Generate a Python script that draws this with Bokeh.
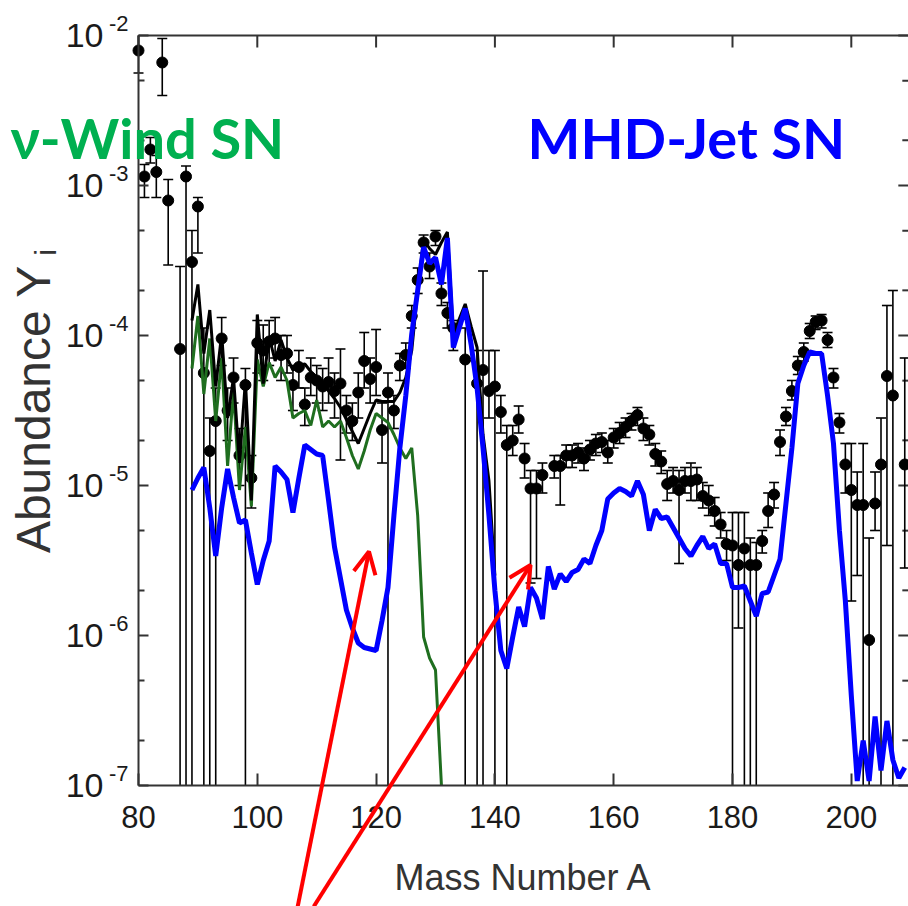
import numpy as np
from bokeh.plotting import figure
from bokeh.models import (Label, Arrow, OpenHead, FixedTicker, Range1d, CustomJSTickFormatter)
from bokeh.embed import file_html
from bokeh.resources import INLINE

# ---------------- data (log10 of abundance) ----------------
x_ticks = [80, 100, 120, 140, 160, 180, 200]
y_exps = [-2, -3, -4, -5, -6, -7]

mhd_A = list(range(89, 210))
mhd_logY = [-5.03, -4.95, -4.88, -5.15, -5.47, -5.15, -4.89, -5.08, -5.25, -5.23,
            -5.45, -5.66, -5.50, -5.37, -4.87, -4.91, -4.96, -5.18, -4.95, -4.73,
            -4.76, -4.79, -4.80, -5.10, -5.41, -5.62, -5.83, -5.95, -6.05, -6.08,
            -6.09, -6.10, -5.90, -5.68, -5.20, -4.75, -4.40, -3.99, -3.70, -3.41,
            -3.52, -3.48, -3.66, -3.35, -4.08, -3.95, -3.82, -4.06, -4.35, -4.75,
            -5.20, -5.70, -6.10, -6.22, -6.01, -5.81, -5.94, -5.68, -5.75, -5.89,
            -5.54, -5.69, -5.59, -5.64, -5.58, -5.56, -5.49, -5.52, -5.40, -5.30,
            -5.09, -5.05, -5.02, -5.04, -5.07, -4.97, -5.06, -5.30, -5.16, -5.22,
            -5.21, -5.28, -5.35, -5.42, -5.47, -5.40, -5.34, -5.42, -5.39, -5.52,
            -5.52, -5.68, -5.68, -5.67, -5.77, -5.87, -5.72, -5.71, -5.60, -5.49,
            -5.12, -4.75, -4.32, -4.20, -4.11, -4.12, -4.12, -4.40, -4.72, -5.30,
            -5.77, -6.40, -6.97, -6.70, -6.97, -6.54, -6.90, -6.57, -6.83, -6.95,
            -6.88]

wind_A = list(range(89, 132))
wind_logY = [-4.22, -3.87, -4.39, -4.02, -4.57, -4.15, -4.87, -4.37, -5.03, -4.61,
             -5.14, -4.16, -4.34, -4.18, -4.28, -4.21, -4.30, -4.55, -4.52, -4.50,
             -4.60, -4.43, -4.61, -4.57, -4.61, -4.57, -4.68, -4.80, -4.89, -4.77,
             -4.63, -4.52, -4.55, -4.58, -4.66, -4.75, -4.82, -4.75, -5.20, -6.01,
             -6.15, -6.23, -7.00]

total_A = list(range(89, 141))
total_logY = [-3.90, -3.66, -4.12, -3.83, -4.34, -3.99, -4.55, -4.28, -4.85, -4.30,
              -5.10, -3.86, -4.32, -4.01, -4.17, -4.03, -4.15, -4.23, -4.20, -4.19,
              -4.24, -4.28, -4.32, -4.37, -4.42, -4.48, -4.56, -4.64, -4.72, -4.62,
              -4.52, -4.43, -4.44, -4.44, -4.44, -4.38, -4.28, -4.10, -3.70, -3.36,
              -3.42, -3.46, -3.38, -3.31, -3.99, -3.89, -3.79, -3.94, -4.08, -4.66,
              -4.97, -5.60]

obs_A = [80, 81, 82, 83, 84, 85, 87, 88, 89, 90, 91, 92, 93, 94, 95, 96, 97, 98, 99,
         100, 101, 102, 103, 104, 105, 106, 107, 108, 109, 110, 111, 112, 113, 114, 115,
         116, 117, 118, 119, 120, 121, 122, 123, 124, 125, 126, 127, 128, 129, 130, 131,
         132, 133, 135, 137, 138, 139, 140, 141, 142, 143, 144, 145, 146, 147, 148, 150,
         151, 152, 153, 154, 155, 156, 157, 158, 159, 160, 161, 162, 163, 164, 165, 166,
         167, 168, 169, 170, 171, 172, 173, 174, 175, 176, 177, 178, 179, 180, 181, 182,
         183, 184, 185, 186, 187, 188, 189, 190, 191, 192, 193, 194, 195, 196, 197, 198,
         199, 200, 201, 202, 203, 204, 205, 206, 207, 209]
obs_logY = [-2.10, -2.94, -2.76, -2.91, -2.18, -3.10, -4.09, -2.94, -3.51, -3.14, -4.25, -4.77, -4.57, -4.02, -4.50, -4.28, -4.80, -4.33, -4.95,
            -4.05, -4.10, -4.04, -4.02, -4.13, -4.12, -4.33, -4.21, -4.46, -4.28, -4.30, -4.34, -4.31, -4.37, -4.32, -4.50,
            -4.57, -4.38, -4.17, -4.29, -4.21, -4.63, -4.38, -4.50, -4.20, -4.13, -3.87, -3.63, -3.38, -3.54, -3.34, -3.72,
            -3.85, -3.95, -4.16, -4.32, -4.23, -4.37, -4.34, -4.51, -4.73, -4.70, -4.56, -4.82, -5.02, -5.02, -4.93, -4.87,
            -4.87, -4.80, -4.80, -4.78, -4.82, -4.76, -4.72, -4.71, -4.78, -4.68, -4.65, -4.61, -4.57, -4.53, -4.62, -4.66,
            -4.79, -4.84, -4.99, -4.97, -5.03, -4.97, -4.97, -4.96, -5.07, -5.10, -5.17, -5.26, -5.39, -5.40, -5.53, -5.42,
            -5.53, -5.53, -5.37, -5.17, -5.06, -4.71, -4.54, -4.37, -4.20, -4.11, -3.97, -3.91, -3.90, -4.03, -4.28, -4.58,
            -4.86, -5.03, -5.13, -5.13, -6.03, -5.12, -4.86, -4.27, -4.40, -4.86]
# lower ends of the error bars (-8 = runs below the axis)
obs_logLo = [-2.25, -3.08, -2.85, -3.08, -2.40, -3.53, -8.0, -8.0, -8.0, -3.45, -8.0, -8.0, -8.0, -4.20, -4.70, -4.45, -5.00, -8.0, -5.15,
             -4.25, -4.30, -4.20, -4.15, -4.30, -4.25, -4.50, -4.35, -4.60, -4.40, -4.45, -4.50, -4.45, -4.55, -4.83, -4.65,
             -4.70, -4.55, -4.35, -4.45, -4.40, -4.85, -8.0, -4.62, -4.30, -4.22, -3.95, -3.72, -3.45, -3.62, -3.40, -3.80,
             -3.95, -4.10, -8.0, -8.0, -8.0, -4.55, -8.0, -4.65, -8.0, -4.80, -4.65, -4.95, -5.65, -5.62, -5.05, -4.95,
             -5.13, -4.88, -4.88, -4.85, -4.90, -4.83, -4.80, -4.78, -4.85, -4.75, -4.72, -4.68, -4.63, -4.60, -4.70, -4.73,
             -4.87, -4.92, -5.10, -5.05, -5.52, -5.05, -5.10, -5.10, -5.15, -5.20, -5.27, -5.35, -5.50, -8.0, -5.95, -8.0,
             -8.0, -8.0, -5.45, -5.28, -5.15, -4.80, -4.60, -4.43, -4.26, -4.17, -4.02, -3.96, -3.95, -4.08, -4.35, -4.65,
             -5.05, -5.77, -5.60, -8.0, -8.0, -5.30, -8.0, -5.40, -8.0, -5.55]
obs_logHi = [-1.95, -2.86, -2.68, -2.80, -2.02, -2.96, -3.54, -2.87, -3.30, -3.08, -3.95, -4.55, -4.35, -3.88, -4.35, -4.15, -4.62, -4.22, -4.80,
             -3.90, -3.93, -3.90, -3.88, -4.00, -4.00, -4.20, -4.10, -4.35, -4.15, -4.20, -4.22, -4.15, -4.25, -4.09, -4.40,
             -4.45, -4.25, -3.98, -4.15, -3.96, -4.45, -4.25, -4.40, -4.12, -4.05, -3.80, -3.55, -3.33, -3.45, -3.30, -3.65,
             -3.78, -3.90, -3.95, -4.10, -3.57, -4.10, -4.10, -4.40, -4.60, -4.60, -4.47, -4.72, -4.90, -4.90, -4.85, -4.80,
             -4.80, -4.73, -4.73, -4.72, -4.75, -4.70, -4.66, -4.65, -4.70, -4.62, -4.58, -4.55, -4.52, -4.48, -4.55, -4.60,
             -4.72, -4.77, -4.90, -4.88, -4.90, -4.88, -4.85, -4.88, -4.98, -5.00, -5.08, -5.18, -5.30, -5.18, -5.18, -5.18,
             -5.35, -5.38, -5.30, -5.05, -4.98, -4.63, -4.48, -4.30, -4.14, -4.05, -3.92, -3.87, -3.86, -3.98, -4.22, -4.52,
             -4.72, -4.72, -4.91, -4.72, -5.35, -4.91, -4.55, -3.80, -3.70, -4.15]

# ---------------- layout constants ----------------
FONT = "Liberation Sans"
AX = "#333333"
X0, X1 = 80, 209.6            # data region of the axes box
Y0, Y1 = 1e-7, 1e-2
PX_A = 5.94                   # pixels per mass unit
PX_DEC = 150.0                # pixels per decade
LEFT, TOP = 138, 35           # box position on the canvas
W, H = 908, 906
XL = X0 - LEFT / PX_A
XR = X0 + (W - LEFT) / PX_A
YT = 10.0 ** (np.log10(Y1) + TOP / PX_DEC)
YB = 10.0 ** (np.log10(Y1) - (H - TOP) / PX_DEC)

p = figure(width=W, height=H, y_axis_type="log",
           x_range=Range1d(XL, XR), y_range=Range1d(YB, YT),
           output_backend="svg", toolbar_location=None,
           min_border_left=0, min_border_right=0, min_border_top=0, min_border_bottom=0)
p.grid.visible = False
p.outline_line_color = None
p.background_fill_color = "white"
p.border_fill_color = "white"

major_y = [10.0 ** e for e in y_exps]
minor_y = [m * 10.0 ** e for e in y_exps for m in (2, 5) if m * 10.0 ** e < Y1]

# bottom axis, pinned to the bottom of the box
xa = p.xaxis[0]
xa.fixed_location = Y0
xa.bounds = (X0, X1)
xa.ticker = FixedTicker(ticks=x_ticks)
xa.axis_line_width = 2
xa.axis_line_color = AX
xa.major_tick_line_color = AX
xa.major_tick_line_width = 2
xa.major_tick_out = 0
xa.major_tick_in = 12
xa.minor_tick_line_color = None
xa.major_label_text_font = FONT
xa.major_label_text_font_size = "31px"
xa.major_label_text_color = "#1a1a1a"
xa.major_label_standoff = 20
xa.axis_label = "Mass Number A"
xa.axis_label_text_font = FONT
xa.axis_label_text_font_size = "36px"
xa.axis_label_text_font_style = "normal"
xa.axis_label_text_color = "#333333"
xa.axis_label_standoff = 26

# left axis, pinned to the left of the box: mantissa "10", exponent as a label
ya = p.yaxis[0]
ya.fixed_location = X0
ya.bounds = (Y0, Y1)
ya.ticker = FixedTicker(ticks=major_y, minor_ticks=minor_y)
ya.formatter = CustomJSTickFormatter(code="return '10'")
ya.axis_line_width = 2
ya.axis_line_color = AX
ya.major_tick_line_color = AX
ya.minor_tick_line_color = AX
ya.major_tick_line_width = 2
ya.minor_tick_line_width = 2
ya.major_tick_out = 0
ya.minor_tick_out = 0
ya.major_tick_in = 10
ya.minor_tick_in = 6
ya.major_label_text_font = FONT
ya.major_label_text_font_size = "34px"
ya.major_label_text_color = "#1a1a1a"
ya.major_label_standoff = 35

for e in y_exps:
    p.add_layout(Label(x=X0, y=10.0 ** e, text=str(e), x_offset=-10, y_offset=12,
                       text_align="right", text_baseline="middle",
                       text_font=FONT, text_font_size="22px", text_color="#1a1a1a"))

# top edge of the box with inward ticks, and inward ticks on the right edge
p.segment(x0=X0, y0=Y1, x1=X1, y1=Y1, line_color=AX, line_width=2)
p.ray(x=x_ticks, y=[Y1] * len(x_ticks), length=12, angle=-np.pi / 2,
      length_units="screen", line_color=AX, line_width=2)
p.ray(x=[X1] * len(major_y), y=major_y, length=10, angle=np.pi,
      length_units="screen", line_color=AX, line_width=2)
p.ray(x=[X1] * len(minor_y), y=minor_y, length=6, angle=np.pi,
      length_units="screen", line_color=AX, line_width=2)

# ---------------- error bars and points ----------------
oA = np.array(obs_A, dtype=float)
oY = 10.0 ** np.array(obs_logY)
lo_log = np.array(obs_logLo)
hi_log = np.array(obs_logHi)
lo_in = lo_log > np.log10(Y0)           # lower end lies inside the box -> has a cap
hi_in = hi_log < np.log10(Y1)
oLo = 10.0 ** np.maximum(lo_log, np.log10(Y0))   # stop at the axis
oHi = 10.0 ** np.minimum(hi_log, np.log10(Y1))
p.segment(x0=oA, y0=oLo, x1=oA, y1=oHi, line_color="black", line_width=1.6)
p.scatter(oA[lo_in], oLo[lo_in], marker="dash", size=10, line_color="black", line_width=1.6)
p.scatter(oA[hi_in], oHi[hi_in], marker="dash", size=10, line_color="black", line_width=1.6)
p.scatter(oA, oY, marker="circle", size=11, fill_color="black", line_color="black")

# ---------------- model curves ----------------
p.line(wind_A, 10.0 ** np.array(wind_logY), line_color="#1f6e1f", line_width=3)
p.line(total_A, 10.0 ** np.array(total_logY), line_color="black", line_width=3)
p.line(mhd_A, 10.0 ** np.array(mhd_logY), line_color="#0000ff", line_width=5)

# y axis title
p.add_layout(Label(x=X0, y=10.0 ** -4.49, text="Abundance Y", x_offset=-105, y_offset=0,
                   angle=np.pi / 2, text_align="center", text_baseline="middle",
                   text_font=FONT, text_font_size="48px", text_color="#333333"))
p.add_layout(Label(x=X0, y=10.0 ** -3.0, text="i", x_offset=-93, y_offset=-67,
                   angle=np.pi / 2, text_align="center", text_baseline="middle",
                   text_font=FONT, text_font_size="30px", text_color="#333333"))

# ---------------- annotations ----------------
p.add_layout(Label(x=X0, y=Y1, text="ν-Wind SN", x_offset=-128, y_offset=-102,
                   text_align="left", text_baseline="alphabetic",
                   text_font="Lato", text_font_style="bold", text_font_size="56px",
                   text_color="#00b050"))
p.add_layout(Label(x=X0, y=Y1, text="MHD-Jet SN", x_offset=389, y_offset=-102,
                   text_align="left", text_baseline="alphabetic",
                   text_font="Lato", text_font_style="bold", text_font_size="56px",
                   text_color="#0000ff"))

for xs, xe, ye in [(106.8, 118.8, 10.0 ** -5.44), (109.5, 146.0, 10.0 ** -5.53)]:
    p.add_layout(Arrow(x_start=xs, y_start=YB, x_end=xe, y_end=ye,
                       line_color="#ff0000", line_width=4,
                       end=OpenHead(size=22, line_color="#ff0000", line_width=4)))

open("out.html", "w").write(file_html(p, INLINE))
